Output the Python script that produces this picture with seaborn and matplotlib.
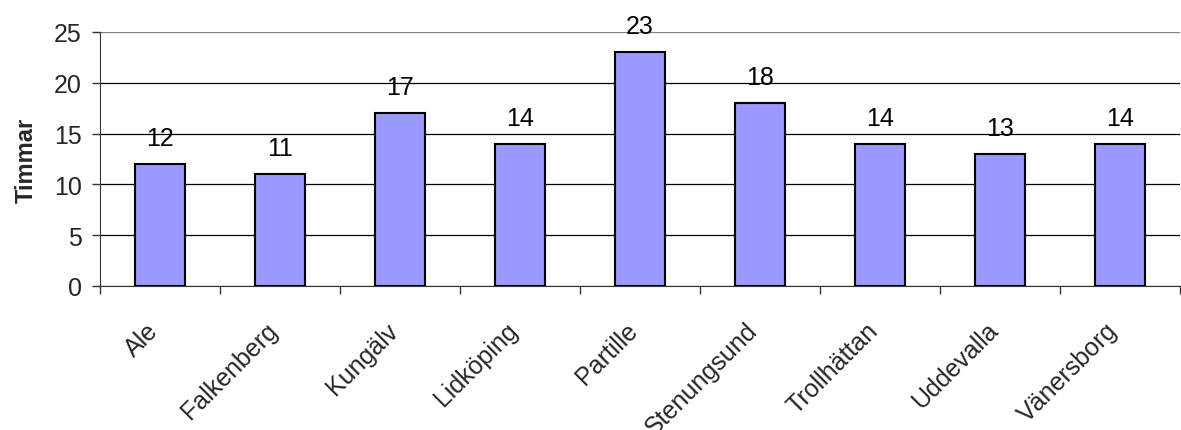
import numpy as np
import pandas as pd
import matplotlib
matplotlib.use('Agg')
import matplotlib.pyplot as plt
import matplotlib.transforms as mtransforms
import seaborn as sns
from matplotlib.ticker import FixedLocator

# Data
kommuner = ['Ale', 'Falkenberg', 'Kungälv', 'Lidköping', 'Partille',
            'Stenungsund', 'Trollhättan', 'Uddevalla', 'Vänersborg']
timmar = [12, 11, 17, 14, 23, 18, 14, 13, 14]

df = pd.DataFrame({'kommun': kommuner, 'timmar': timmar})

sns.set_style('white')
plt.rcParams['font.family'] = ['Liberation Sans', 'DejaVu Sans']

fig = plt.figure(figsize=(11.81, 4.31), dpi=100)
ax = fig.add_axes([100 / 1181, 1 - 287 / 431, 1080 / 1181, 254 / 431])

sns.barplot(data=df, x='kommun', y='timmar', color='#9999FF',
            edgecolor='black', linewidth=1.5, width=0.41, saturation=1, ax=ax)

# value labels above bars
for i, v in enumerate(timmar):
    ax.annotate(str(v), xy=(i, v), xytext=(0, 10), textcoords='offset points',
                ha='center', va='bottom', fontsize=18, color='black')

ax.set_xlim(-0.5, len(kommuner) - 0.5)
ax.set_ylim(0, 25)
ax.set_yticks(np.arange(0, 26, 5))
ax.yaxis.grid(True, color='black', linewidth=0.9)
ax.set_axisbelow(True)
# top gridline is lighter in the original
ax.get_ygridlines()[-1].set_color('#808080')

for s in ['top', 'right']:
    ax.spines[s].set_visible(False)
ax.spines['left'].set_color('#333333')
ax.spines['bottom'].set_color('#333333')

# ticks between categories
ax.xaxis.set_minor_locator(FixedLocator(np.arange(-0.5, len(kommuner), 1)))
ax.tick_params(axis='x', which='minor', length=6, width=1, color='#333333', direction='out', bottom=True)
ax.tick_params(axis='x', which='major', length=0, pad=29)
ax.tick_params(axis='y', length=6, width=1, color='#333333', direction='out', left=True,
               labelsize=18, pad=7)

ax.set_xticks(range(len(kommuner)))
ax.set_xticklabels(kommuner, rotation=45, ha='right', va='center',
                   rotation_mode='anchor', fontsize=18)
shift = mtransforms.ScaledTranslation(-6 / 100, 0, fig.dpi_scale_trans)
for lbl in ax.get_xticklabels():
    lbl.set_transform(lbl.get_transform() + shift)

ax.set_xlabel('')
ax.set_ylabel('Timmar', fontsize=17, fontweight='bold', labelpad=12)

fig.savefig('out.png', dpi=100)
